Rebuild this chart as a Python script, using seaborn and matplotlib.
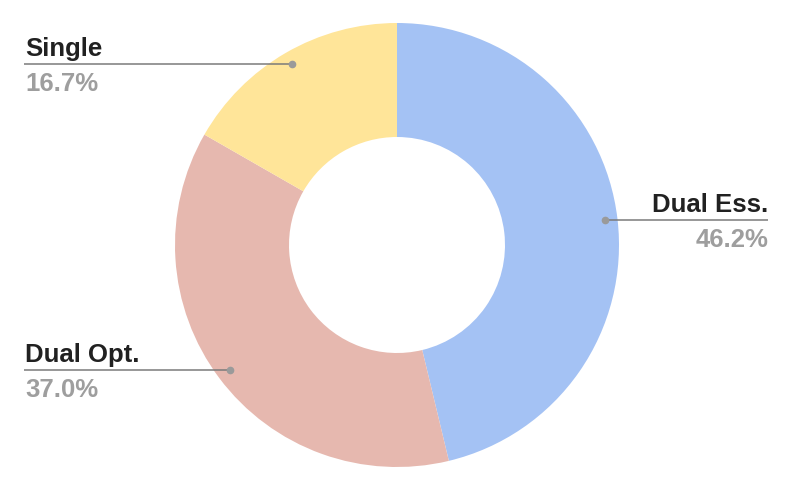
import numpy as np
import matplotlib
matplotlib.use("Agg")
import matplotlib.pyplot as plt
import seaborn as sns

labels = ["Dual Ess.", "Dual Opt.", "Single"]
shares = [46.2, 37.0, 16.7]
colors = ["#A4C2F4", "#E6B8AF", "#FFE599"]

sns.set_theme(style="white")
plt.rcParams["font.family"] = ["Liberation Sans", "DejaVu Sans"]

W, H = 793, 490
fig = plt.figure(figsize=(W / 100, H / 100), dpi=100)
ax = fig.add_axes([0, 0, 1, 1])

cx, cy, r_out, r_in = 397, H - 245, 222, 108
ax.pie(shares, colors=colors, startangle=90, counterclock=False,
       center=(cx, cy), radius=r_out,
       wedgeprops=dict(width=r_out - r_in, linewidth=0))

# leader lines with dots at the middle of each wedge
total = sum(shares)
start = 0.0
r_dot = 209
for lab, val in zip(labels, shares):
    mid = start + val / total * 180
    start += val / total * 360
    ang = np.deg2rad(90 - mid)
    dx, dy = cx + r_dot * np.cos(ang), cy + r_dot * np.sin(ang)
    if np.cos(ang) >= 0:
        x_end, ha = 768, "right"
    else:
        x_end, ha = 24, "left"
    ax.plot([dx, x_end], [dy, dy], color="#7a7a7a", lw=1.1, solid_capstyle="butt")
    ax.plot(dx, dy, "o", color="#9a9a9a", ms=4.5)
    tx = x_end + (1 if ha == "left" else 0)
    ax.text(tx, dy + 8, lab, ha=ha, va="baseline",
            fontsize=18.5, fontweight="bold", color="#212121")
    ax.text(tx, dy - 27, f"{val:.1f}%", ha=ha, va="baseline",
            fontsize=18.5, fontweight="bold", color="#9e9e9e")

ax.set_xlim(0, W)
ax.set_ylim(0, H)
ax.set_aspect("equal")
ax.axis("off")
fig.savefig("out.png", dpi=100, facecolor="white")
